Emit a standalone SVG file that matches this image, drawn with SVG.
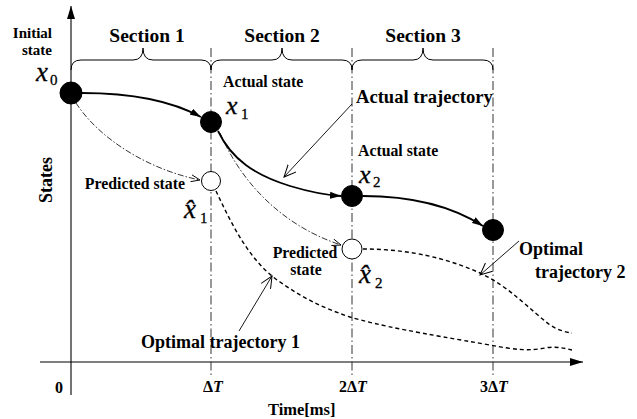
<svg xmlns="http://www.w3.org/2000/svg" width="637" height="419" viewBox="0 0 637 419">
<defs>
<style>
text{font-family:"Liberation Serif","Times New Roman",serif;fill:#000;font-weight:bold}
.lbl{font-size:15.8px}
.big{font-size:19.5px}
.math{font-size:27px;font-style:italic;font-weight:normal;stroke:#000;stroke-width:0.3}
.m26{font-size:26px}
.sub{font-size:15px;font-style:normal}
.tick{font-size:16px}
.axis{stroke:#000;stroke-width:1.1;fill:none}
.grid{stroke:#333;stroke-width:1;fill:none;stroke-dasharray:9 3 1.5 3}
.brace{stroke:#000;stroke-width:1;fill:none}
.actual{stroke:#000;stroke-width:1.8;fill:none;marker-end:url(#ah)}
.pred{stroke:#000;stroke-width:0.8;fill:none;stroke-dasharray:6 2 1.5 2;marker-end:url(#sm)}
.opt{stroke:#000;stroke-width:1.4;fill:none;stroke-dasharray:4 3}
.ptr{stroke:#000;stroke-width:0.9;fill:none;marker-end:url(#ov)}
.full{fill:#000;stroke:#000;stroke-width:1}
.open{fill:#fff;stroke:#000;stroke-width:1}
</style>
<marker id="ah" markerUnits="userSpaceOnUse" markerWidth="12" markerHeight="8" refX="11" refY="4" orient="auto">
<path d="M0,0.5 L11,4 L0,7.5 z" fill="#000"/>
</marker>
<marker id="ov" markerUnits="userSpaceOnUse" markerWidth="14" markerHeight="12" refX="12" refY="6" orient="auto">
<path d="M0,0.5 L12,6 L0,11.5" fill="none" stroke="#000" stroke-width="1"/>
</marker>
<marker id="sm" markerUnits="userSpaceOnUse" markerWidth="10" markerHeight="8" refX="9" refY="4" orient="auto">
<path d="M0,0.5 L9,4 L0,7.5" fill="none" stroke="#000" stroke-width="0.9"/>
</marker>
<marker id="axh" markerUnits="userSpaceOnUse" markerWidth="14" markerHeight="10" refX="13" refY="5" orient="auto">
<path d="M0,1 L13,5 L0,9 z" fill="#000"/>
</marker>
</defs>
<rect width="637" height="419" fill="#fff"/>

<g id="axes">
<path class="axis" d="M71,395 L71,6" marker-end="url(#axh)"/>
<path class="axis" d="M40,362 L583,362" marker-end="url(#axh)"/>
<text class="big" transform="translate(52,180) rotate(-90)" text-anchor="middle" style="font-size:18px">States</text>
<text class="tick" x="55" y="393">0</text>
<text class="tick" x="203" y="392">Δ<tspan font-style="italic">T</tspan></text>
<text class="tick" x="339" y="392">2Δ<tspan font-style="italic">T</tspan></text>
<text class="tick" x="480" y="392">3Δ<tspan font-style="italic">T</tspan></text>
<text class="lbl" x="268" y="415" style="font-size:16.5px">Time[ms]</text>
</g>

<g id="grid">
<path class="grid" d="M211,48 L211,378"/>
<path class="grid" d="M352,48 L352,378"/>
<path class="grid" d="M493,48 L493,378"/>
</g>

<g id="sections">
<path class="brace" d="M71,70 Q71,60 81,60 L133,60 Q143,60 143,48 Q143,60 153,60 L201,60 Q211,60 211,70"/>
<path class="brace" d="M211,70 Q211,60 221,60 L272,60 Q282,60 282,48 Q282,60 292,60 L342,60 Q352,60 352,70"/>
<path class="brace" d="M352,70 Q352,60 362,60 L413,60 Q423,60 423,48 Q423,60 433,60 L483,60 Q493,60 493,70"/>
<text class="big" x="147" y="42" text-anchor="middle">Section 1</text>
<text class="big" x="282" y="42" text-anchor="middle">Section 2</text>
<text class="big" x="423" y="42" text-anchor="middle">Section 3</text>
</g>

<g id="connectors">
<path class="actual" d="M82,93 C130,93 170,100 201,117"/>
<path class="actual" d="M218,131 C232,160 255,175 290,186 C310,192 325,195 341,196"/>
<path class="actual" d="M363,196 C410,196 450,205 483,226"/>
<path class="pred" d="M76,103 C100,140 150,170 200,180"/>
<path class="pred" d="M220,133 C240,180 280,225 341,245"/>
<path class="opt" d="M216,191 C232,225 250,262 280,282 C300,296 320,307 350,317 C380,326 420,333 490,345 C515,350 530,351 545,348 C555,346 563,348 572,350"/>
<path class="opt" d="M363,249 C400,249 440,255 480,273 C510,287 530,310 550,325 C558,330 565,332 572,333"/>
<path class="ptr" d="M352,104 L284,177"/>
<path class="ptr" d="M239,331 L272,276"/>
<path class="ptr" d="M519,241 L480,275"/>
</g>

<g id="x0">
<circle class="full" cx="71" cy="93" r="11"/>
<text class="lbl" x="52" y="38" text-anchor="end" style="font-size:15px">Initial</text>
<text class="lbl" x="52" y="55" text-anchor="end" style="font-size:15px">state</text>
<text class="math" x="36" y="81">x<tspan class="sub" x="50" y="85">0</tspan></text>
</g>

<g id="x1">
<circle class="full" cx="211" cy="122" r="10.5"/>
<text class="lbl" x="223" y="87">Actual state</text>
<text class="math m26" x="226" y="114">x<tspan class="sub" x="241" y="119">1</tspan></text>
</g>

<g id="xhat1">
<circle class="open" cx="211" cy="181" r="9.5"/>
<text class="lbl" x="185" y="189" text-anchor="end">Predicted state</text>
<text class="math" x="184" y="218">x̂<tspan class="sub" x="200" y="223">1</tspan></text>
</g>

<g id="x2">
<circle class="full" cx="352" cy="196" r="10.5"/>
<text class="lbl" x="358" y="156">Actual state</text>
<text class="math m26" x="359" y="183">x<tspan class="sub" x="373" y="187">2</tspan></text>
</g>

<g id="xhat2">
<circle class="open" cx="352" cy="249" r="10"/>
<text class="lbl" x="305" y="258" text-anchor="middle">Predicted</text>
<text class="lbl" x="306" y="275" text-anchor="middle">state</text>
<text class="math" x="359" y="283">x̂<tspan class="sub" x="375" y="288">2</tspan></text>
</g>

<g id="x3">
<circle class="full" cx="493" cy="230" r="10.5"/>
</g>

<g id="labels">
<text class="big" x="356" y="103" style="font-size:18.6px">Actual trajectory</text>
<text class="big" x="141" y="348" style="font-size:18px">Optimal trajectory 1</text>
<text class="big" x="519" y="255" style="font-size:18px">Optimal</text>
<text class="big" x="535" y="278" style="font-size:18px">trajectory 2</text>
</g>
</svg>
